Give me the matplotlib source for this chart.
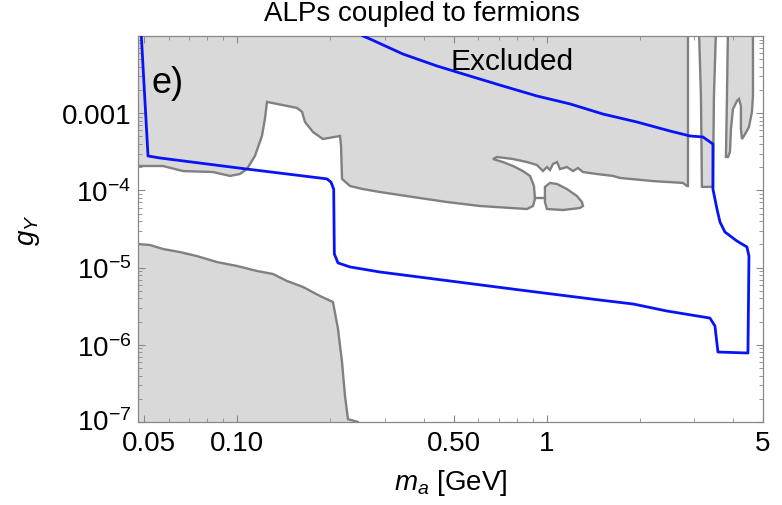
import matplotlib.pyplot as plt
import matplotlib.transforms as mtransforms
import numpy as np

plt.rcParams['font.family'] = ['Liberation Sans', 'DejaVu Sans']
plt.rcParams['mathtext.fontset'] = 'custom'
plt.rcParams['mathtext.rm'] = 'Liberation Sans'
plt.rcParams['mathtext.it'] = 'Liberation Sans:italic'

# excluded region (main, upper part), bottom boundary left -> right
main_x = [0.040, 0.0478, 0.0576, 0.0668, 0.0835, 0.0948, 0.102, 0.1075, 0.1141, 0.1202, 0.1229, 0.1248,
          0.156, 0.162, 0.1656, 0.1757, 0.1892, 0.2149, 0.2165, 0.2181, 0.2314, 0.2549, 0.2892,
          0.3698, 0.4762, 0.6087, 0.8636, 0.9031, 0.9165, 0.9097, 0.8832, 0.8381, 0.7783, 0.7225,
          0.6706, 0.6908, 0.7783, 0.8636, 0.9302, 0.9728, 1.002, 1.025, 1.048, 1.080, 1.104, 1.163,
          1.216, 1.262, 1.310, 1.453, 1.637, 1.725, 2.205, 2.502, 2.756, 2.839, 2.861, 2.861, 0.040]
main_y = [2.07e-4, 2.07e-4, 2.07e-4, 1.78e-4, 1.73e-4, 1.54e-4, 1.63e-4, 1.89e-4, 2.79e-4, 5.07e-4, 8.41e-4, 1.40e-3,
          1.17e-3, 1.04e-3, 7.69e-4, 5.71e-4, 4.63e-4, 5.07e-4, 3.76e-4, 1.41e-4, 1.14e-4, 1.04e-4, 9.53e-5,
          8.21e-5, 7.07e-5, 6.28e-5, 5.74e-5, 6.28e-5, 7.74e-5, 1.14e-4, 1.54e-4, 1.78e-4, 2.07e-4, 2.33e-4,
          2.55e-4, 2.71e-4, 2.55e-4, 2.33e-4, 2.13e-4, 1.78e-4, 2.01e-4, 1.84e-4, 2.20e-4, 2.33e-4, 1.89e-4, 2.01e-4,
          1.78e-4, 1.95e-4, 1.73e-4, 1.63e-4, 1.54e-4, 1.45e-4, 1.32e-4, 1.28e-4, 1.25e-4, 1.14e-4, 1.14e-4, 0.012, 0.012]

# small island below the notch
isl_x = [0.987, 1.025, 1.080, 1.163, 1.252, 1.300, 1.310, 1.281, 1.129, 1.002, 0.987]
isl_y = [1.11e-4, 1.25e-4, 1.21e-4, 1.04e-4, 8.46e-5, 7.07e-5, 6.28e-5, 5.92e-5, 5.57e-5, 5.74e-5, 7.07e-5]
link_x = [0.9165, 0.987]
link_y = [7.97e-5, 7.97e-5]

# narrow vertical strip
strip_x = [3.105, 3.151, 3.174, 3.445, 3.471, 3.524]
strip_y = [0.012, 1.67e-3, 1.11e-4, 1.11e-4, 1.67e-3, 0.012]

# rightmost finger
finger_x = [3.852, 3.824, 3.795, 3.852, 3.910, 3.939, 3.998, 4.119, 4.181, 4.243, 4.243, 4.275,
            4.340, 4.504, 4.605, 4.640, 4.640]
finger_y = [0.012, 1.67e-3, 2.71e-4, 2.71e-4, 3.14e-4, 6.24e-4, 1.13e-3, 1.44e-3, 1.53e-3, 1.24e-3, 6.24e-4, 4.63e-4,
            5.07e-4, 6.63e-4, 1.04e-3, 1.67e-3, 0.012]

# lower-left excluded region
low_x = [0.040, 0.0478, 0.0523, 0.0576, 0.0653, 0.0741, 0.0860, 0.0998, 0.1159, 0.1305, 0.1448, 0.1632,
         0.1851, 0.2039, 0.2117, 0.2181, 0.2230, 0.2280, 0.2456, 0.2456, 0.040]
low_y = [2.02e-5, 2.02e-5, 1.96e-5, 1.74e-5, 1.59e-5, 1.41e-5, 1.18e-5, 1.05e-5, 9.04e-6, 8.26e-6, 6.71e-6, 5.61e-6,
         4.29e-6, 3.58e-6, 1.60e-6, 5.99e-7, 2.17e-7, 1.09e-7, 1.0e-7, 8e-8, 8e-8]

# blue contour
blue_x = [0.0490, 0.0515, 0.0563, 0.1075, 0.1950, 0.2009, 0.2050, 0.2060, 0.2117, 0.2314, 0.2892, 0.4870,
          0.8196, 1.486, 1.900, 2.446, 3.369, 3.497, 3.576, 4.470, 4.504, 4.437, 4.119, 3.767, 3.630,
          3.550, 3.445, 3.445, 3.198, 2.904, 2.502, 1.957, 1.519, 1.189, 0.9302, 0.7225, 0.5650, 0.4420,
          0.3432, 0.2685, 0.2549]
blue_y = [0.01, 2.79e-4, 2.63e-4, 1.89e-4, 1.41e-4, 1.28e-4, 1.04e-4, 1.50e-5, 1.15e-5, 1.02e-5, 8.77e-6, 6.71e-6,
          5.13e-6, 3.80e-6, 3.38e-6, 2.74e-6, 2.22e-6, 1.75e-6, 8.06e-7, 7.83e-7, 1.41e-5, 1.85e-5, 2.21e-5, 2.89e-5, 3.90e-5,
          5.74e-5, 1.04e-4, 3.99e-4, 4.92e-4, 5.07e-4, 5.88e-4, 7.69e-4, 9.76e-4, 1.32e-3, 1.67e-3, 2.25e-3, 3.03e-3, 4.09e-3,
          5.84e-3, 9.15e-3, 0.01]

xticks = [0.05, 0.1, 0.5, 1, 5]
xticklabels = ['0.05', '0.10', '0.50', '1', '5']
yticks = [1e-7, 1e-6, 1e-5, 1e-4, 1e-3]
yticklabels = ['$10^{-7}$', '$10^{-6}$', '$10^{-5}$', '$10^{-4}$', '0.001']

fill_c = '#d9d9d9'
edge_c = '#808080'

fig = plt.figure(figsize=(7.82, 5.06), dpi=100)
ax = fig.add_axes([138/782, 1-423/506, 625/782, 386/506])

for xs, ys in [(main_x, main_y), (isl_x, isl_y), (strip_x, strip_y), (finger_x, finger_y), (low_x, low_y)]:
    ax.fill(xs, ys, facecolor=fill_c, edgecolor=edge_c, linewidth=1.7, zorder=1)
ax.plot(link_x, link_y, color=edge_c, linewidth=1.7, zorder=1)
ax.plot(blue_x, blue_y, color='#0814f5', linewidth=2.0, zorder=3)

ax.set_xscale('log')
ax.set_yscale('log')
ax.set_xlim(0.0478, 5.0)
ax.set_ylim(1e-7, 1e-2)

ax.set_xticks(xticks)
ax.set_xticklabels(xticklabels)
ax.set_yticks(yticks)
ax.set_yticklabels(yticklabels)
ax.xaxis.set_minor_locator(plt.matplotlib.ticker.LogLocator(base=10, subs=np.arange(2, 10)))
ax.yaxis.set_minor_locator(plt.matplotlib.ticker.LogLocator(base=10, subs=np.arange(2, 10), numticks=20))
ax.xaxis.set_minor_formatter(plt.NullFormatter())
ax.yaxis.set_minor_formatter(plt.NullFormatter())
ax.tick_params(which='both', direction='in', top=True, right=True, color='#888888', labelsize=20)
ax.tick_params(which='major', length=5, width=0.8)
ax.tick_params(which='minor', length=2.8, width=0.6)
ax.tick_params(axis='x', pad=6)
ax.tick_params(axis='y', pad=5)
for s in ax.spines.values():
    s.set_color('#888888')
    s.set_linewidth(0.9)

# nudge the two corner labels apart, as in the original
lab_x = ax.get_xticklabels()[0]
lab_x.set_transform(lab_x.get_transform() + mtransforms.ScaledTranslation(5/100, 0, fig.dpi_scale_trans))
lab_y = ax.get_yticklabels()[0]
lab_y.set_transform(lab_y.get_transform() + mtransforms.ScaledTranslation(0, 3/100, fig.dpi_scale_trans))

ax.set_xlabel('$m_a$ [GeV]', fontsize=20, labelpad=8)
ax.set_ylabel('$g_Y$', fontsize=20, labelpad=14)
fig.text(422/782, 1-14/506, 'ALPs coupled to fermions', fontsize=20, ha='center', va='center')
ax.text(0.022, 0.88, 'e)', fontsize=26, transform=ax.transAxes, ha='left', va='center', zorder=4)
ax.text(0.598, 0.935, 'Excluded', fontsize=21.5, transform=ax.transAxes, ha='center', va='center', zorder=4)

plt.savefig('out.png', dpi=100)
